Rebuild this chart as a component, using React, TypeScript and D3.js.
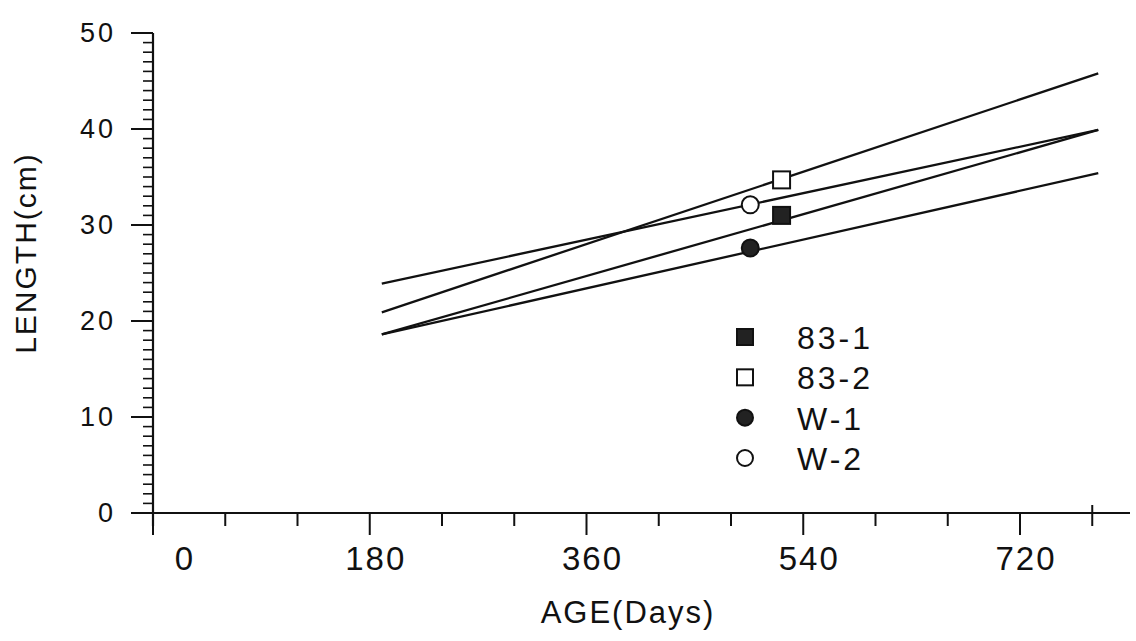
import React from "react";
import * as d3 from "d3";

const seriesNames = ["83-1", "83-2", "W-1", "W-2"];
const seriesFilled = [true, false, true, false];
const seriesShape = ["square", "square", "circle", "circle"];
const lineStartDay = [190, 190, 190, 190];
const lineEndDay = [785, 785, 785, 785];
const lineStartLength = [18.6, 20.9, 18.6, 23.9];
const lineEndLength = [39.9, 45.8, 35.4, 39.9];
const pointDay = [522, 522, 496, 496];
const pointLength = [31.0, 34.7, 27.6, 32.1];

const xMajorTicks = [0, 180, 360, 540, 720];
const xMinorTicks = [60, 120, 240, 300, 420, 480, 600, 660, 780];
const yMajorTicks = [0, 10, 20, 30, 40, 50];
const yMinorTicks = d3.range(0, 51, 1);

const W = 1136;
const H = 641;
const FONT = "'Liberation Sans', Arial, sans-serif";

export default function App() {
  const x = d3.scaleLinear().domain([0, 720]).range([153, 1020]);
  const y = d3.scaleLinear().domain([0, 50]).range([513, 33]);
  const line = d3
    .line<[number, number]>()
    .x((d) => x(d[0]))
    .y((d) => y(d[1]));

  const x0 = x(0);
  const y0 = y(0);

  const symbol = (shape: string, filled: boolean, cx: number, cy: number, s: number, key: string) =>
    shape === "square" ? (
      <rect
        key={key}
        x={cx - s / 2}
        y={cy - s / 2}
        width={s}
        height={s}
        fill={filled ? "#222" : "#fff"}
        stroke="#111"
        strokeWidth={2}
      />
    ) : (
      <circle key={key} cx={cx} cy={cy} r={s / 2} fill={filled ? "#222" : "#fff"} stroke="#111" strokeWidth={2} />
    );

  const legendX = 745;
  const legendY = d3.scaleLinear().domain([0, 3]).range([337, 458]);

  return (
    <svg
      width={W}
      height={H}
      style={{ position: "absolute", left: 0, top: 0, background: "#fff" }}
      fontFamily={FONT}
    >
      <rect x={0} y={0} width={W} height={H} fill="#fff" />
      {/* Y axis */}
      <line x1={x0} y1={y(50)} x2={x0} y2={y0 + 13} stroke="#111" strokeWidth={2.2} />
      {yMinorTicks.map((v) => (
        <line key={"ym" + v} x1={x0 - 10} y1={y(v)} x2={x0} y2={y(v)} stroke="#111" strokeWidth={1.6} />
      ))}
      {yMajorTicks.map((v) => (
        <g key={"yM" + v}>
          <line x1={x0 - 22} y1={y(v)} x2={x0} y2={y(v)} stroke="#111" strokeWidth={2} />
          <text
            x={x0 - 37}
            y={y(v) + 9}
            textAnchor="end"
            fontSize={27}
            letterSpacing={3}
            fill="#111"
          >
            {v}
          </text>
        </g>
      ))}
      {/* X axis */}
      <line x1={x0 - 10} y1={y0} x2={1130} y2={y0} stroke="#111" strokeWidth={2.2} />
      {xMinorTicks.map((v) => (
        <line key={"xm" + v} x1={x(v)} y1={y0 - (v === 780 ? 8 : 0)} x2={x(v)} y2={y0 + 13} stroke="#111" strokeWidth={2} />
      ))}
      {xMajorTicks.map((v) => (
        <g key={"xM" + v}>
          <line x1={x(v)} y1={y0} x2={x(v)} y2={y0 + 22} stroke="#111" strokeWidth={2} />
          <text
            x={x(v) + (v === 0 ? 32 : 6)}
            y={y0 + 57}
            textAnchor="middle"
            fontSize={33}
            letterSpacing={2}
            fill="#111"
          >
            {v}
          </text>
        </g>
      ))}
      {/* Axis titles */}
      <text x={628} y={623} textAnchor="middle" fontSize={31} letterSpacing={2} fill="#111">
        AGE(Days)
      </text>
      <text
        transform={`translate(36,253) rotate(-90)`}
        textAnchor="middle"
        fontSize={30}
        letterSpacing={2}
        fill="#111"
      >
        LENGTH(cm)
      </text>
      {/* Regression lines */}
      {seriesNames.map((name, i) => (
        <path
          key={"l" + name}
          d={line([
            [lineStartDay[i], lineStartLength[i]],
            [lineEndDay[i], lineEndLength[i]],
          ]) as string}
          fill="none"
          stroke="#111"
          strokeWidth={2.3}
        />
      ))}
      {/* Points */}
      {seriesNames.map((name, i) =>
        symbol(seriesShape[i], seriesFilled[i], x(pointDay[i]), y(pointLength[i]), 17, "p" + name)
      )}
      {/* Legend */}
      {seriesNames.map((name, i) => (
        <g key={"lg" + name}>
          {symbol(seriesShape[i], seriesFilled[i], legendX, legendY(i), 16, "ls" + name)}
          <text x={797} y={legendY(i) + 12} fontSize={32} letterSpacing={3} fill="#111">
            {name}
          </text>
        </g>
      ))}
    </svg>
  );
}
